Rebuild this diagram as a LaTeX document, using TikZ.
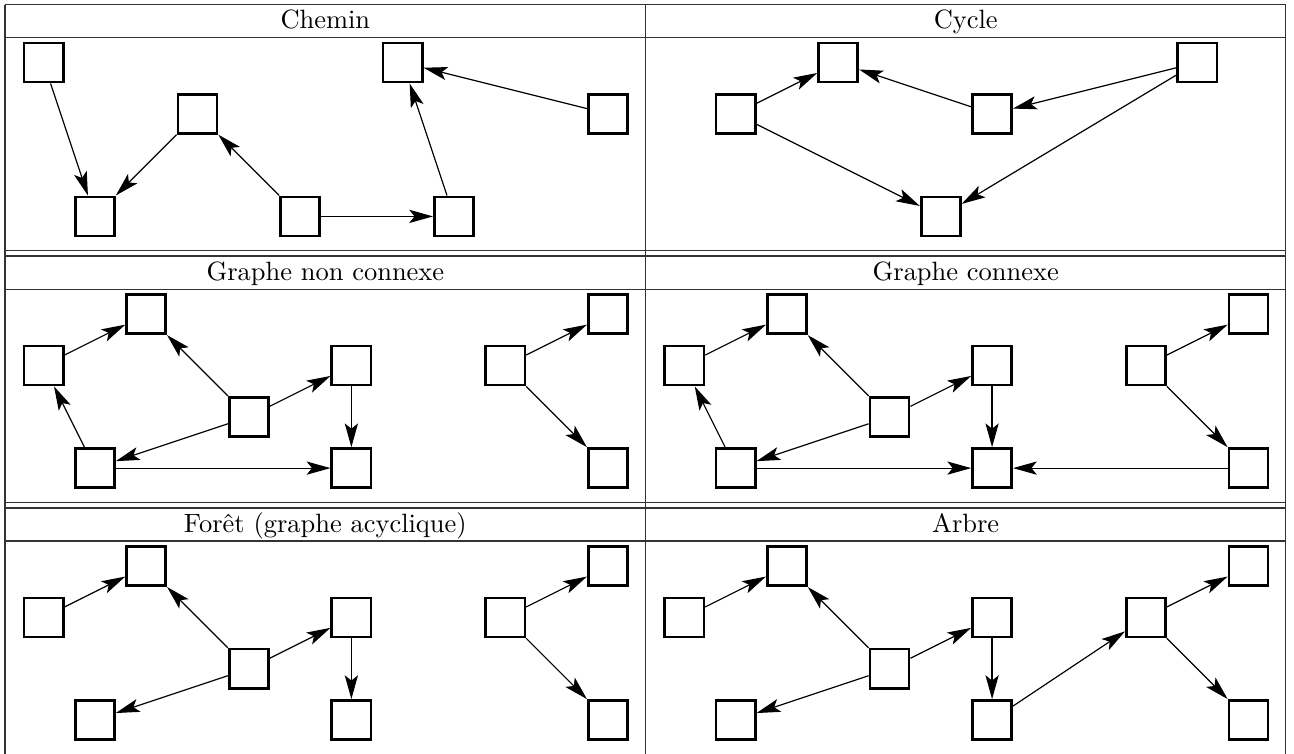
\documentclass[tikz,border=0pt]{standalone}
\usepackage{fontspec}
\usetikzlibrary{arrows.meta}
\begin{document}
\begin{tikzpicture}[x=0.378pt,y=-0.378pt,
  vbox/.style={draw=black,line width=1pt,minimum size=14.8pt,inner sep=0pt,fill=white},
  edge/.style={line width=0.45pt,-{Stealth[length=9pt,width=5pt,inset=2pt]}},
  rule/.style={line width=0.4pt,draw=black!80},
  head/.style={anchor=base,inner sep=0pt}]
\useasboundingbox (0,0) rectangle (1294,753);
% table rules
\draw[rule] (5,4.5) -- (1285.7,4.5);
\draw[rule] (5,37.3) -- (1285.7,37.3);
\draw[rule] (5,250.7) -- (1285.7,250.7);
\draw[rule] (5,256) -- (1285.7,256);
\draw[rule] (5,289.3) -- (1285.7,289.3);
\draw[rule] (5,502.7) -- (1285.7,502.7);
\draw[rule] (5,508) -- (1285.7,508);
\draw[rule] (5,541) -- (1285.7,541);
\draw[rule] (5,4.5) -- (5,760);
\draw[rule] (645.7,4.5) -- (645.7,760);
\draw[rule] (1285.7,4.5) -- (1285.7,760);
% headers
\node[head] (h1) at (325.35,28.3) {Chemin};
\node[head] (h2) at (965.7,28.3) {Cycle};
\node[head] (h3) at (325.35,280.2) {Graphe non connexe};
\node[head] (h4) at (965.7,280.2) {Graphe connexe};
\node[head] (h5) at (325.35,532.1) {Forêt (graphe acyclique)};
\node[head] (h6) at (965.7,532.1) {Arbre};
% Chemin
\begin{scope}[shift={(43.6,62.5)},x=19.39pt,y=-19.39pt]
\node[vbox] (a1) at (0,0) {};
\node[vbox] (a2) at (1,3) {};
\node[vbox] (a3) at (3,1) {};
\node[vbox] (a4) at (5,3) {};
\node[vbox] (a5) at (8,3) {};
\node[vbox] (a6) at (7,0) {};
\node[vbox] (a7) at (11,1) {};
\draw[edge] (a1) -- (a2);
\draw[edge] (a3) -- (a2);
\draw[edge] (a4) -- (a3);
\draw[edge] (a4) -- (a5);
\draw[edge] (a5) -- (a6);
\draw[edge] (a7) -- (a6);
\end{scope}
% Cycle
\begin{scope}[shift={(684.3,62.5)},x=19.39pt,y=-19.39pt]
\node[vbox] (b1) at (1,1) {};
\node[vbox] (b2) at (3,0) {};
\node[vbox] (b3) at (6,1) {};
\node[vbox] (b4) at (10,0) {};
\node[vbox] (b5) at (5,3) {};
\draw[edge] (b1) -- (b2);
\draw[edge] (b3) -- (b2);
\draw[edge] (b4) -- (b3);
\draw[edge] (b4) -- (b5);
\draw[edge] (b1) -- (b5);
\end{scope}
% Graphe non connexe
\begin{scope}[shift={(43.6,314.2)},x=19.39pt,y=-19.39pt]
\node[vbox] (c1) at (0,1) {};
\node[vbox] (c2) at (2,0) {};
\node[vbox] (c3) at (4,2) {};
\node[vbox] (c4) at (6,1) {};
\node[vbox] (c5) at (6,3) {};
\node[vbox] (c6) at (1,3) {};
\node[vbox] (c7) at (9,1) {};
\node[vbox] (c8) at (11,0) {};
\node[vbox] (c9) at (11,3) {};
\draw[edge] (c1) -- (c2);
\draw[edge] (c3) -- (c2);
\draw[edge] (c3) -- (c4);
\draw[edge] (c4) -- (c5);
\draw[edge] (c3) -- (c6);
\draw[edge] (c6) -- (c1);
\draw[edge] (c6) -- (c5);
\draw[edge] (c7) -- (c8);
\draw[edge] (c7) -- (c9);
\end{scope}
% Graphe connexe
\begin{scope}[shift={(684.3,314.2)},x=19.39pt,y=-19.39pt]
\node[vbox] (d1) at (0,1) {};
\node[vbox] (d2) at (2,0) {};
\node[vbox] (d3) at (4,2) {};
\node[vbox] (d4) at (6,1) {};
\node[vbox] (d5) at (6,3) {};
\node[vbox] (d6) at (1,3) {};
\node[vbox] (d7) at (9,1) {};
\node[vbox] (d8) at (11,0) {};
\node[vbox] (d9) at (11,3) {};
\draw[edge] (d1) -- (d2);
\draw[edge] (d3) -- (d2);
\draw[edge] (d3) -- (d4);
\draw[edge] (d4) -- (d5);
\draw[edge] (d3) -- (d6);
\draw[edge] (d6) -- (d1);
\draw[edge] (d6) -- (d5);
\draw[edge] (d7) -- (d8);
\draw[edge] (d7) -- (d9);
\draw[edge] (d9) -- (d5);
\end{scope}
% Foret
\begin{scope}[shift={(43.6,566.1)},x=19.39pt,y=-19.39pt]
\node[vbox] (e1) at (0,1) {};
\node[vbox] (e2) at (2,0) {};
\node[vbox] (e3) at (4,2) {};
\node[vbox] (e4) at (6,1) {};
\node[vbox] (e5) at (6,3) {};
\node[vbox] (e6) at (1,3) {};
\node[vbox] (e7) at (9,1) {};
\node[vbox] (e8) at (11,0) {};
\node[vbox] (e9) at (11,3) {};
\draw[edge] (e1) -- (e2);
\draw[edge] (e3) -- (e2);
\draw[edge] (e3) -- (e4);
\draw[edge] (e4) -- (e5);
\draw[edge] (e3) -- (e6);
\draw[edge] (e7) -- (e8);
\draw[edge] (e7) -- (e9);
\end{scope}
% Arbre
\begin{scope}[shift={(684.3,566.1)},x=19.39pt,y=-19.39pt]
\node[vbox] (f1) at (0,1) {};
\node[vbox] (f2) at (2,0) {};
\node[vbox] (f3) at (4,2) {};
\node[vbox] (f4) at (6,1) {};
\node[vbox] (f5) at (6,3) {};
\node[vbox] (f6) at (1,3) {};
\node[vbox] (f7) at (9,1) {};
\node[vbox] (f8) at (11,0) {};
\node[vbox] (f9) at (11,3) {};
\draw[edge] (f1) -- (f2);
\draw[edge] (f3) -- (f2);
\draw[edge] (f3) -- (f4);
\draw[edge] (f4) -- (f5);
\draw[edge] (f3) -- (f6);
\draw[edge] (f5) -- (f7);
\draw[edge] (f7) -- (f8);
\draw[edge] (f7) -- (f9);
\end{scope}
\end{tikzpicture}
\end{document}
